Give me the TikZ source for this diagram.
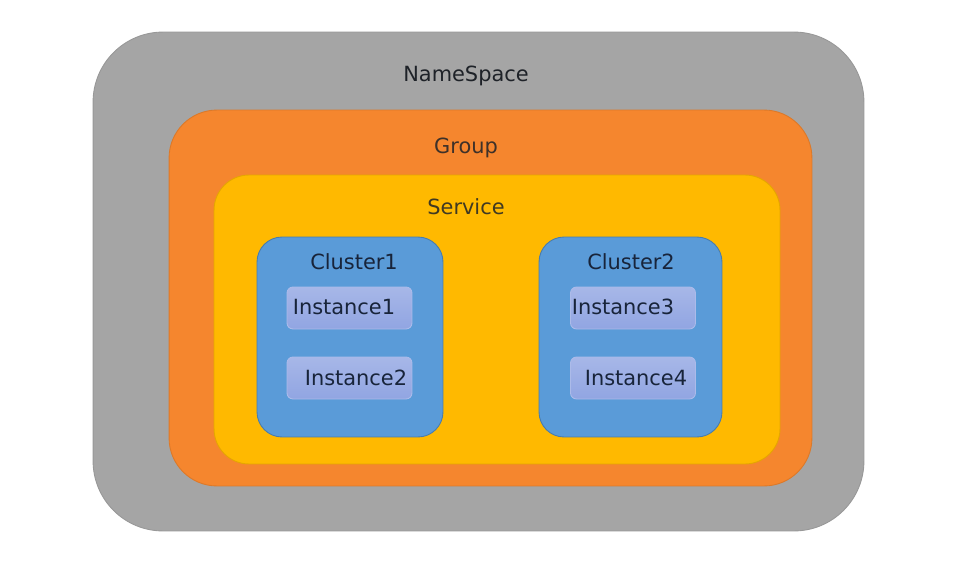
\documentclass[tikz,border=0pt]{standalone}
\usepackage{fontspec}
\setmainfont{DejaVu Sans}
\usetikzlibrary{positioning}

\definecolor{nsgray}{HTML}{A5A5A5}
\definecolor{grporange}{HTML}{F5862E}
\definecolor{svcyellow}{HTML}{FFB900}
\definecolor{clblue}{HTML}{5A9BD8}
\definecolor{instblue}{HTML}{91A5E2}
\definecolor{txtdark}{HTML}{1E2228}
\definecolor{txtnavy}{HTML}{18243A}

\tikzset{
    box/.style={draw, line width=0.5pt, inner sep=0pt},
    lbl/.style={font=\fontsize{11.9}{14}\selectfont},
}

\begin{document}
\begin{tikzpicture}[x=0.02cm, y=-0.02cm]
    \useasboundingbox[fill=white] (0,0) rectangle (955,571);

    % outer containers
    \node[box, fill=nsgray, draw=nsgray!92!black, rounded corners=1.4cm,
          minimum width=15.42cm, minimum height=9.98cm] (ns) at (478.5,281.5) {};
    \node[box, fill=grporange, draw=grporange!90!black, rounded corners=0.96cm,
          minimum width=12.86cm, minimum height=7.52cm] (grp) at (490.5,298) {};
    \node[box, fill=svcyellow, draw=svcyellow!90!black, rounded corners=0.7cm,
          minimum width=11.32cm, minimum height=5.78cm] (svc) at (497,319.5) {};

    % clusters
    \node[box, fill=clblue, draw=clblue!80!black, rounded corners=0.5cm,
          minimum width=3.72cm, minimum height=4cm] (cl1) at (350,337) {};
    \node[box, fill=clblue, draw=clblue!80!black, rounded corners=0.5cm,
          minimum width=3.66cm, minimum height=4cm] (cl2) at (630.5,337) {};

    % instances
    \foreach \n/\x/\y in {1/349.5/308, 2/349.5/378, 3/633/308, 4/633/378}
        \node[box, top color=instblue!80!white, bottom color=instblue,
              draw=instblue!75!white, rounded corners=0.12cm,
              minimum width=2.5cm, minimum height=0.84cm] (inst\n) at (\x,\y) {};

    % labels
    \node[lbl, text=txtdark] (nstxt) at (466,76) {NameSpace};
    \node[lbl, text=txtdark!85!grporange] (grptxt) at (466,148) {Group};
    \node[lbl, text=txtdark!85!svcyellow] (svctxt) at (466,207) {Service};
    \node[lbl, text=txtnavy] (cl1txt) at (354,262) {Cluster1};
    \node[lbl, text=txtnavy] (cl2txt) at (631,262) {Cluster2};
    \node[lbl, text=txtnavy] (i1txt) at (344,307) {Instance1};
    \node[lbl, text=txtnavy] (i2txt) at (356,378) {Instance2};
    \node[lbl, text=txtnavy] (i3txt) at (623,307) {Instance3};
    \node[lbl, text=txtnavy] (i4txt) at (636,378) {Instance4};
\end{tikzpicture}
\end{document}
